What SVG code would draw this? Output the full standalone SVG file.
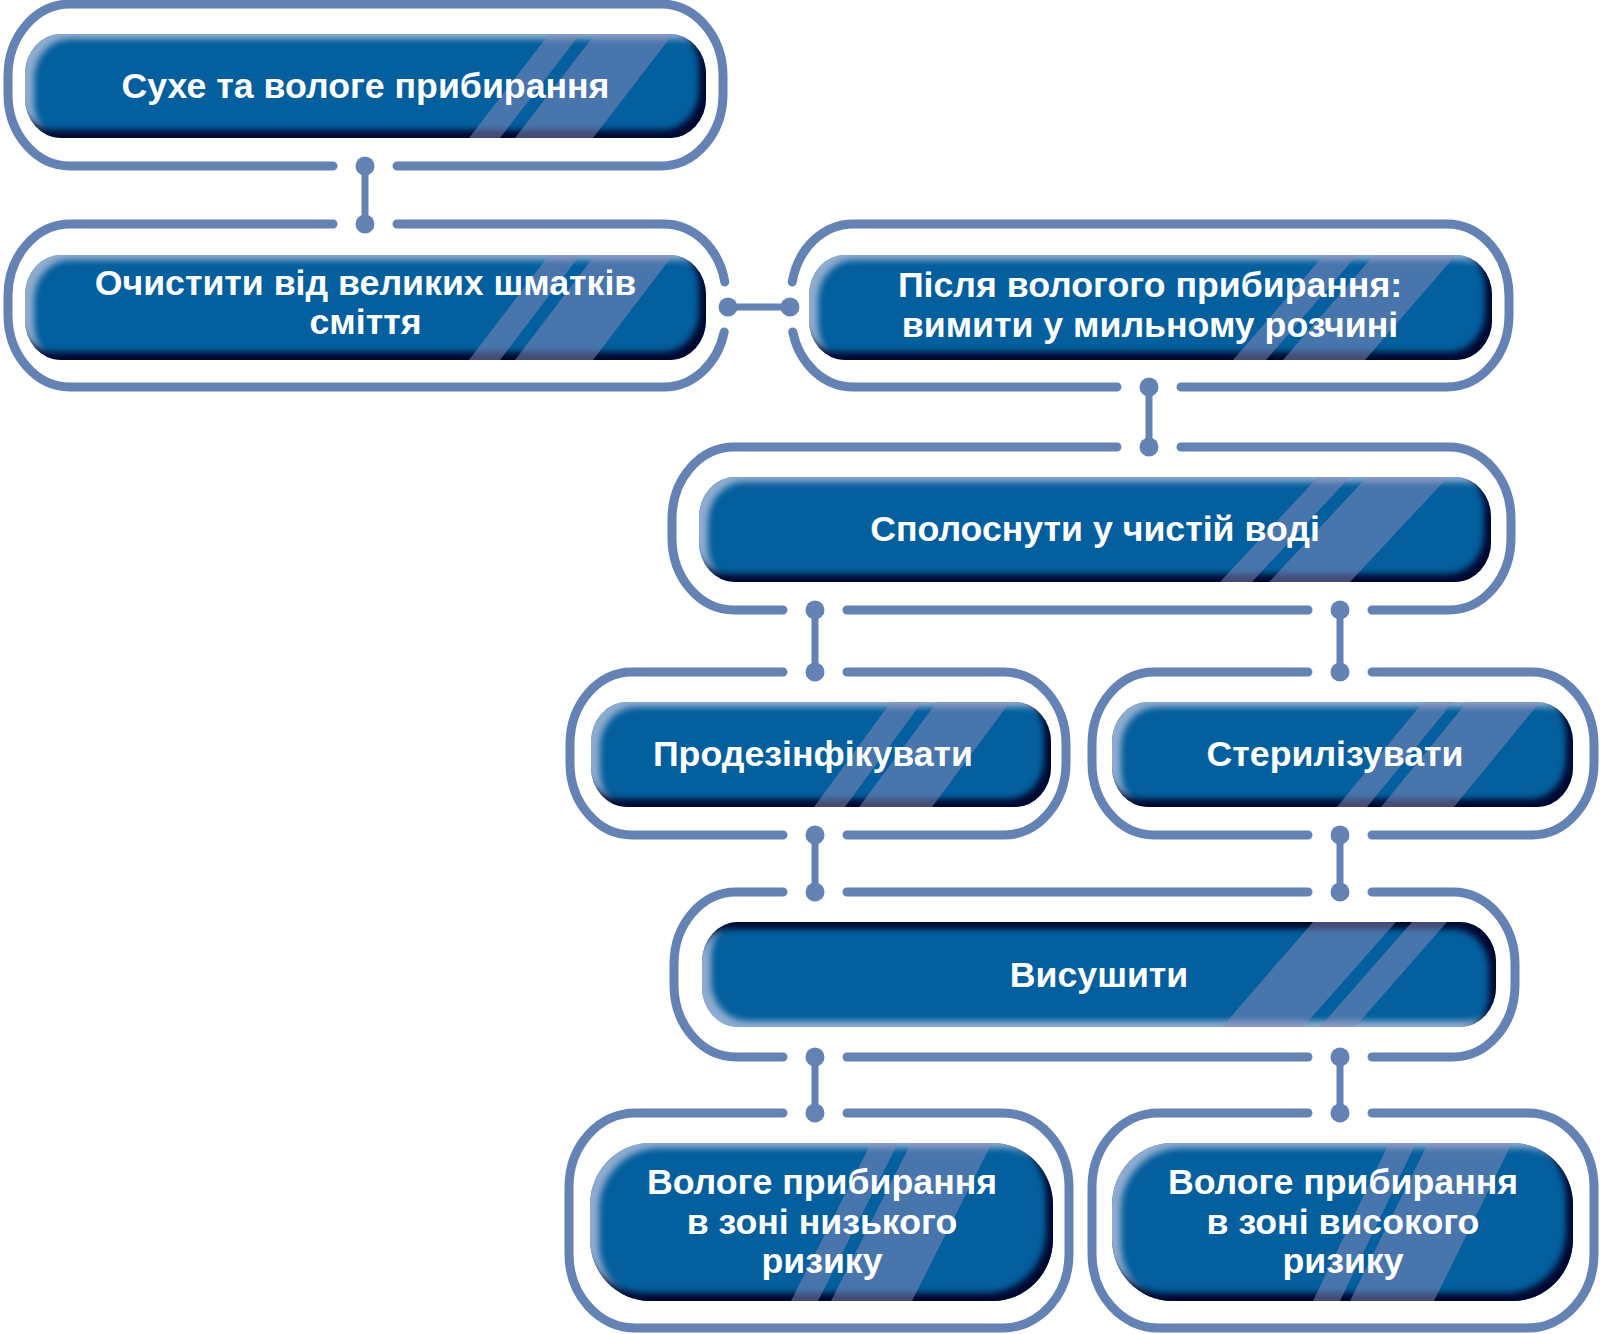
<svg xmlns="http://www.w3.org/2000/svg" width="1600" height="1334" viewBox="0 0 1600 1334">
<style>
.frame{fill:none;stroke:#6482b4;stroke-width:9;stroke-linecap:round}
.pill{fill:#045f9e}
.stripe{fill:#8a8cba;opacity:0.5}
.lbl{font-family:"Liberation Sans",Arial,sans-serif;font-weight:bold;font-size:35.7px;fill:#ffffff;text-anchor:middle}
.cl{stroke:#6482b4;stroke-width:7;fill:none}
.dot{fill:#6482b4}
</style>
<defs>
<filter id="bev" x="-5%" y="-10%" width="110%" height="120%" color-interpolation-filters="sRGB">
<feGaussianBlur in="SourceAlpha" stdDeviation="3" result="b"/>
<feOffset in="b" dx="-7" dy="-8" result="od"/>
<feComposite in="SourceAlpha" in2="od" operator="out" result="d"/>
<feFlood flood-color="#000830" result="fd"/>
<feComposite in="fd" in2="d" operator="in" result="dark"/>
<feOffset in="b" dx="9" dy="5" result="ol"/>
<feComposite in="SourceAlpha" in2="ol" operator="out" result="l"/>
<feFlood flood-color="#a8bad8" flood-opacity="0.85" result="fl"/>
<feComposite in="fl" in2="l" operator="in" result="light"/>
<feMerge><feMergeNode in="SourceGraphic"/><feMergeNode in="light"/><feMergeNode in="dark"/></feMerge>
</filter>
<filter id="bev2" x="-5%" y="-10%" width="110%" height="120%" color-interpolation-filters="sRGB">
<feGaussianBlur in="SourceAlpha" stdDeviation="3" result="b"/>
<feOffset in="b" dx="-7" dy="7" result="od"/>
<feComposite in="SourceAlpha" in2="od" operator="out" result="d"/>
<feFlood flood-color="#000830" result="fd"/>
<feComposite in="fd" in2="d" operator="in" result="dark"/>
<feOffset in="b" dx="9" dy="-6" result="ol"/>
<feComposite in="SourceAlpha" in2="ol" operator="out" result="l"/>
<feFlood flood-color="#a8bad8" flood-opacity="0.85" result="fl"/>
<feComposite in="fl" in2="l" operator="in" result="light"/>
<feMerge><feMergeNode in="SourceGraphic"/><feMergeNode in="light"/><feMergeNode in="dark"/></feMerge>
</filter>
<clipPath id="c1"><rect x="25" y="34" width="681" height="104" rx="36" ry="40"/></clipPath>
<clipPath id="c2"><rect x="25" y="255" width="681" height="105" rx="36" ry="40"/></clipPath>
<clipPath id="c3"><rect x="809" y="255" width="683" height="105" rx="36" ry="40"/></clipPath>
<clipPath id="c4"><rect x="699" y="477" width="792" height="105" rx="36" ry="40"/></clipPath>
<clipPath id="c5"><rect x="591" y="702" width="460" height="105" rx="36" ry="40"/></clipPath>
<clipPath id="c6"><rect x="1112" y="702" width="461" height="105" rx="36" ry="40"/></clipPath>
<clipPath id="c7"><rect x="702" y="922" width="794" height="105" rx="36" ry="40"/></clipPath>
<clipPath id="c8"><rect x="590" y="1143" width="463" height="158" rx="60" ry="62"/></clipPath>
<clipPath id="c9"><rect x="1112" y="1143" width="461" height="158" rx="60" ry="62"/></clipPath>
</defs>
<rect width="1600" height="1334" fill="#ffffff"/>

<g id="connectors">
<line class="cl" x1="365" y1="166" x2="365" y2="224"/>
<circle class="dot" cx="365" cy="166" r="9.5"/><circle class="dot" cx="365" cy="224" r="9.5"/>
<line class="cl" x1="728" y1="307" x2="790" y2="307"/>
<circle class="dot" cx="728" cy="307" r="9.5"/><circle class="dot" cx="790" cy="307" r="9.5"/>
<line class="cl" x1="1149" y1="387" x2="1149" y2="447"/>
<circle class="dot" cx="1149" cy="387" r="9.5"/><circle class="dot" cx="1149" cy="447" r="9.5"/>
<line class="cl" x1="815" y1="610" x2="815" y2="672"/>
<circle class="dot" cx="815" cy="610" r="9.5"/><circle class="dot" cx="815" cy="672" r="9.5"/>
<line class="cl" x1="1340" y1="610" x2="1340" y2="672"/>
<circle class="dot" cx="1340" cy="610" r="9.5"/><circle class="dot" cx="1340" cy="672" r="9.5"/>
<line class="cl" x1="815" y1="835" x2="815" y2="892"/>
<circle class="dot" cx="815" cy="835" r="9.5"/><circle class="dot" cx="815" cy="892" r="9.5"/>
<line class="cl" x1="1340" y1="835" x2="1340" y2="892"/>
<circle class="dot" cx="1340" cy="835" r="9.5"/><circle class="dot" cx="1340" cy="892" r="9.5"/>
<line class="cl" x1="815" y1="1057" x2="815" y2="1113"/>
<circle class="dot" cx="815" cy="1057" r="9.5"/><circle class="dot" cx="815" cy="1113" r="9.5"/>
<line class="cl" x1="1340" y1="1057" x2="1340" y2="1113"/>
<circle class="dot" cx="1340" cy="1057" r="9.5"/><circle class="dot" cx="1340" cy="1113" r="9.5"/>
</g>

<g id="node1">
<path class="frame" d="M397,166 H661 A62 72 0 0 0 723,94 V76 A62 72 0 0 0 661,4 H70 A62 72 0 0 0 8,76 V94 A62 72 0 0 0 70,166 H333"/>
<rect class="pill" filter="url(#bev)" x="25" y="34" width="681" height="104" rx="36" ry="40"/>
<g clip-path="url(#c1)"><polygon class="stripe" points="469,138 500,138 580,34 549,34"/><polygon class="stripe" points="515,138 593,138 673,34 595,34"/></g>
<text class="lbl" x="365.5" y="98">Сухе та вологе прибирання</text>
</g>

<g id="node2">
<path class="frame" d="M397,224 H664 A62 72 0 0 1 724.8,282"/>
<path class="frame" d="M724.2,332 A62 72 0 0 1 664,387 H70 A62 72 0 0 1 8,315 V296 A62 72 0 0 1 70,224 H333"/>
<rect class="pill" filter="url(#bev)" x="25" y="255" width="681" height="105" rx="36" ry="40"/>
<g clip-path="url(#c2)"><polygon class="stripe" points="469,360 500,360 580,255 549,255"/><polygon class="stripe" points="515,360 593,360 673,255 595,255"/></g>
<text class="lbl" x="365.5" y="295">Очистити від великих шматків</text>
<text class="lbl" x="365.5" y="334">сміття</text>
</g>

<g id="node3">
<path class="frame" d="M792.75,332 A62 72 0 0 0 853,387 H1117"/>
<path class="frame" d="M1181,387 H1447 A62 72 0 0 0 1509,315 V296 A62 72 0 0 0 1447,224 H853 A62 72 0 0 0 792.2,282"/>
<rect class="pill" filter="url(#bev)" x="809" y="255" width="683" height="105" rx="36" ry="40"/>
<g clip-path="url(#c3)"><polygon class="stripe" points="1233,360 1266,360 1357,255 1324,255"/><polygon class="stripe" points="1283,360 1365,360 1456,255 1374,255"/></g>
<text class="lbl" x="1150" y="297">Після вологого прибирання:</text>
<text class="lbl" x="1150" y="337">вимити у мильному розчині</text>
</g>

<g id="node4">
<path class="frame" d="M1181,447 H1449 A62 72 0 0 1 1511,519 V538 A62 72 0 0 1 1449,610 H1372"/>
<path class="frame" d="M1308,610 H847"/>
<path class="frame" d="M783,610 H734 A62 72 0 0 1 672,538 V519 A62 72 0 0 1 734,447 H1117"/>
<rect class="pill" filter="url(#bev)" x="699" y="477" width="792" height="105" rx="36" ry="40"/>
<g clip-path="url(#c4)"><polygon class="stripe" points="1220,582 1252,582 1350,477 1318,477"/><polygon class="stripe" points="1269,582 1350,582 1448,477 1367,477"/></g>
<text class="lbl" x="1095" y="541">Сполоснути у чистій воді</text>
</g>

<g id="node5">
<path class="frame" d="M847,672 H1004 A62 72 0 0 1 1066,744 V763 A62 72 0 0 1 1004,835 H847"/>
<path class="frame" d="M783,835 H632 A62 72 0 0 1 570,763 V744 A62 72 0 0 1 632,672 H783"/>
<rect class="pill" filter="url(#bev)" x="591" y="702" width="460" height="105" rx="36" ry="40"/>
<g clip-path="url(#c5)"><polygon class="stripe" points="814,807 845,807 922,702 891,702"/><polygon class="stripe" points="859,807 932,807 1010,702 937,702"/></g>
<text class="lbl" x="813" y="766">Продезінфікувати</text>
</g>

<g id="node6">
<path class="frame" d="M1372,672 H1532 A62 72 0 0 1 1594,744 V763 A62 72 0 0 1 1532,835 H1372"/>
<path class="frame" d="M1308,835 H1154 A62 72 0 0 1 1092,763 V744 A62 72 0 0 1 1154,672 H1308"/>
<rect class="pill" filter="url(#bev)" x="1112" y="702" width="461" height="105" rx="36" ry="40"/>
<g clip-path="url(#c6)"><polygon class="stripe" points="1337,807 1367,807 1453,702 1423,702"/><polygon class="stripe" points="1381,807 1454,807 1540,702 1467,702"/></g>
<text class="lbl" x="1335" y="766">Стерилізувати</text>
</g>

<g id="node7">
<path class="frame" d="M847,892 H1308"/>
<path class="frame" d="M1372,892 H1453 A62 72 0 0 1 1515,964 V985 A62 72 0 0 1 1453,1057 H1372"/>
<path class="frame" d="M1308,1057 H847"/>
<path class="frame" d="M783,1057 H736 A62 72 0 0 1 674,985 V964 A62 72 0 0 1 736,892 H783"/>
<rect class="pill" filter="url(#bev2)" x="702" y="922" width="794" height="105" rx="36" ry="40"/>
<g clip-path="url(#c7)"><polygon class="stripe" points="1222,1027 1303,1027 1396,922 1313,922"/><polygon class="stripe" points="1320,1027 1355,1027 1447,922 1412,922"/></g>
<text class="lbl" x="1099" y="987">Висушити</text>
</g>

<g id="node8">
<path class="frame" d="M847,1113 H1003 A66 74 0 0 1 1069,1187 V1254 A66 74 0 0 1 1003,1328 H635 A66 74 0 0 1 569,1254 V1187 A66 74 0 0 1 635,1113 H783"/>
<rect class="pill" filter="url(#bev)" x="590" y="1143" width="463" height="158" rx="60" ry="62"/>
<g clip-path="url(#c8)"><polygon class="stripe" points="791,1301 818,1301 898,1143 871,1143"/><polygon class="stripe" points="831,1301 912,1301 992,1143 911,1143"/></g>
<text class="lbl" x="822" y="1194">Вологе прибирання</text>
<text class="lbl" x="822" y="1233.5">в зоні низького</text>
<text class="lbl" x="822" y="1273">ризику</text>
</g>

<g id="node9">
<path class="frame" d="M1372,1113 H1528 A66 74 0 0 1 1594,1187 V1254 A66 74 0 0 1 1528,1328 H1158 A66 74 0 0 1 1092,1254 V1187 A66 74 0 0 1 1158,1113 H1308"/>
<rect class="pill" filter="url(#bev)" x="1112" y="1143" width="461" height="158" rx="60" ry="62"/>
<g clip-path="url(#c9)"><polygon class="stripe" points="1313,1301 1340,1301 1416,1143 1389,1143"/><polygon class="stripe" points="1350,1301 1434,1301 1512,1143 1428,1143"/></g>
<text class="lbl" x="1343" y="1194">Вологе прибирання</text>
<text class="lbl" x="1343" y="1233.5">в зоні високого</text>
<text class="lbl" x="1343" y="1273">ризику</text>
</g>
</svg>
